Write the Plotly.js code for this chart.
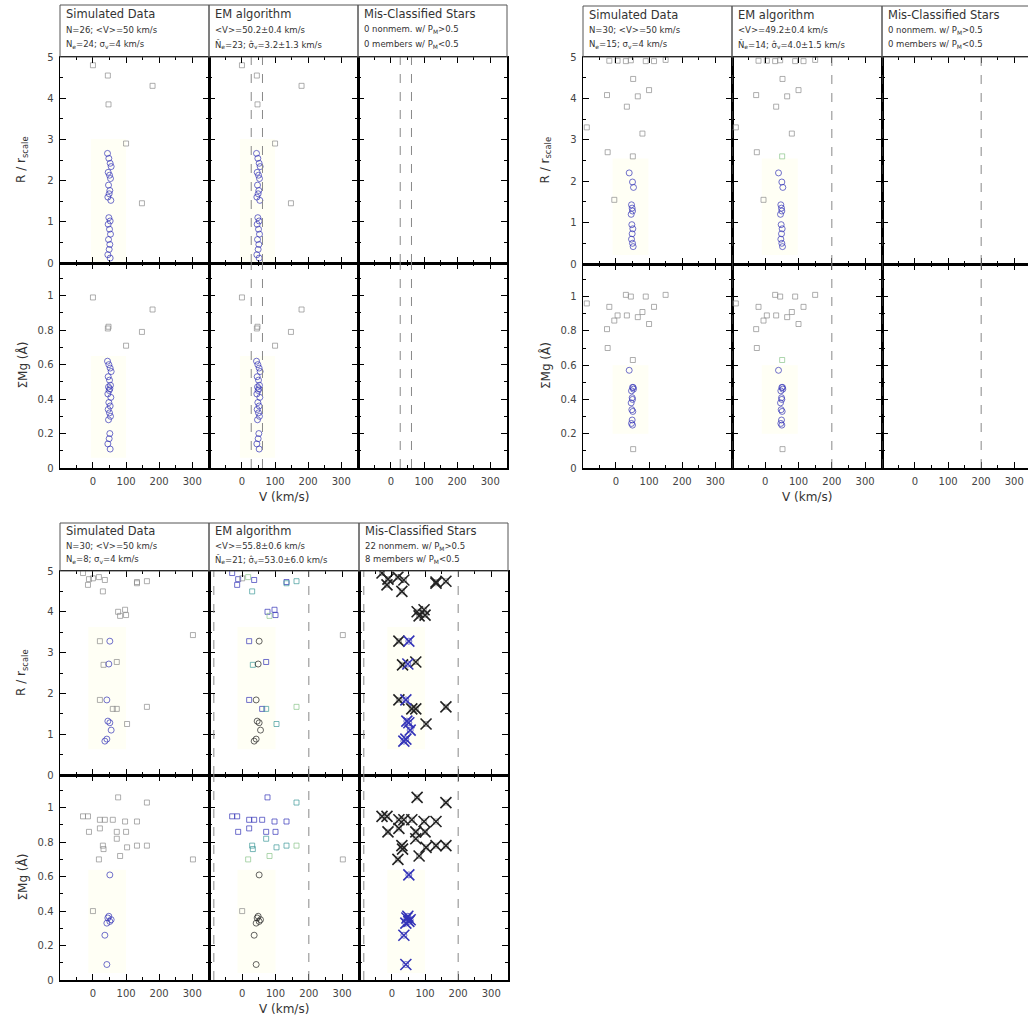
<!DOCTYPE html>
<html><head><meta charset="utf-8">
<script src="https://cdn.plot.ly/plotly-3.0.1.min.js"></script>
<style>html,body{margin:0;padding:0;background:#fff}</style>
</head><body><div id="chart" style="width:1028px;height:1028px"></div>
<script>
// ---------------- DATA ----------------
// Sample 1 (top-left block)
const s1_v   = [0,45,47,100,180,148, 44,48,52,55,46,50,53,47,51,49,45,54,48,52,46,50,53,47,51,49,45,52];
const s1_r   = [4.8,4.55,3.85,2.9,4.3,1.45, 2.66,2.54,2.42,2.34,2.2,2.13,2.05,1.89,1.76,1.68,1.6,1.52,1.1,1.02,0.94,0.82,0.7,0.57,0.45,0.33,0.2,0.12];
const s1_ew  = [0.99,0.81,0.82,0.71,0.92,0.79, 0.62,0.6,0.58,0.56,0.53,0.51,0.48,0.47,0.46,0.45,0.43,0.41,0.38,0.36,0.34,0.32,0.3,0.28,0.2,0.17,0.14,0.11];
const s1_mem = [0,0,0,0,0,0, 1,1,1,1,1,1,1,1,1,1,1,1,1,1,1,1,1,1,1,1,1,1];
const s1_pm  = [0,0,0,0,0,0, 1,1,1,1,1,1,1,1,1,1,1,1,1,1,1,1,1,1,1,1,1,1];
const s1_win = [28,62];
const s1_text = [
  ["Simulated Data","N=26; &lt;V&gt;=50 km/s","N<sub>e</sub>=24; σ<sub>v</sub>=4 km/s"],
  ["EM algorithm","&lt;V&gt;=50.2±0.4 km/s","N̂<sub>e</sub>=23; σ̂<sub>v</sub>=3.2±1.3 km/s"],
  ["Mis-Classified Stars","0 nonmem. w/ P<sub>M</sub>&gt;0.5","0 members w/ P<sub>M</sub>&lt;0.5"]
];

// Sample 2 (top-right block)
const s2_v   = [-88,-27,-25,-20,-5,5,30,33,45,51,52,66,80,90,100,115,150, 40,50,53,47,49,50,46,48,51,49,47,50,52];
const s2_r   = [3.3,4.08,2.7,4.91,1.55,4.91,4.9,3.8,4.92,2.6,4.47,4.05,3.15,4.9,4.2,4.9,4.93, 2.2,1.98,1.85,1.43,1.35,1.28,1.2,0.95,0.85,0.73,0.6,0.5,0.42];
const s2_ew  = [0.96,0.81,0.7,0.94,0.86,0.89,1.01,0.89,1.0,0.63,0.11,0.88,0.91,1.0,0.84,0.94,1.01, 0.57,0.47,0.46,0.45,0.41,0.4,0.38,0.34,0.33,0.28,0.26,0.25,0.47];
const s2_mem = [0,0,0,0,0,0,0,0,0,0,0,0,0,0,0,0,0, 1,1,1,1,1,1,1,1,1,1,1,1,1];
const s2_pm  = [0,0,0,0,0,0,0,0,0,0.45,0,0,0,0,0,0,0, 1,1,1,1,1,1,1,1,1,1,1,1,1];
const s2_win = [-100,200];
const s2_text = [
  ["Simulated Data","N=30; &lt;V&gt;=50 km/s","N<sub>e</sub>=15; σ<sub>v</sub>=4 km/s"],
  ["EM algorithm","&lt;V&gt;=49.2±0.4 km/s","N̂<sub>e</sub>=14; σ̂<sub>v</sub>=4.0±1.5 km/s"],
  ["Mis-Classified Stars","0 nonmem. w/ P<sub>M</sub>&gt;0.5","0 members w/ P<sub>M</sub>&lt;0.5"]
];

// Sample 3 (bottom block)
const s3_v   = [-30,-15,-12,0,18,21,21,30,32,60,72,72,76,82,97,100,103,133,163,163,302,36,133, 45,51,55,36,42,51,42,48];
const s3_r   = [4.95,4.66,4.8,4.82,4.85,3.28,1.84,4.5,2.7,1.62,2.77,1.62,4.0,3.9,4.05,3.92,1.25,4.73,4.75,1.67,3.43,4.78,4.7, 1.32,1.28,1.1,0.83,0.88,3.28,1.84,2.72];
const s3_ew  = [0.95,0.95,0.86,0.4,0.7,0.93,0.88,0.78,0.76,0.93,0.86,0.82,1.06,0.72,0.92,0.86,0.77,0.92,1.03,0.78,0.7,0.93,0.78, 0.36,0.34,0.35,0.26,0.09,0.61,0.33,0.37];
const s3_mem = [0,0,0,0,0,0,0,0,0,0,0,0,0,0,0,0,0,0,0,0,0,0,0, 1,1,1,1,1,1,1,1];
const s3_pm  = [0.95,0.95,0.9,0.1,0.6,0.95,0.9,0.7,0.7,0.95,0.9,0.75,0.95,0.6,0.95,0.9,0.7,0.9,0.8,0.6,0.05,0.95,0.7, 0.05,0.05,0.05,0.05,0.05,0.1,0.05,0.05];
const s3_win = [-85,200];
const s3_text = [
  ["Simulated Data","N=30; &lt;V&gt;=50 km/s","N<sub>e</sub>=8; σ<sub>v</sub>=4 km/s"],
  ["EM algorithm","&lt;V&gt;=55.8±0.6 km/s","N̂<sub>e</sub>=21; σ̂<sub>v</sub>=53.0±6.0 km/s"],
  ["Mis-Classified Stars","22 nonmem. w/ P<sub>M</sub>&gt;0.5","8 members w/ P<sub>M</sub>&lt;0.5"]
];

const xTitle = "V (km/s)";
const yTitleTop = "R / r<sub>scale</sub>";
const yTitleBot = "ΣMg (Å)";

// ---------------- LAYOUT / DRAW ----------------
const W = 1028, H = 1028;
const BLUE = '#3434b8', GRAY = '#8c8c8c', DARK = '#222222', TEAL = '#3f9a9a', LGREEN = '#8cc48c';
const FONT = 'DejaVu Sans';

const samples = [
  {v:s1_v, r:s1_r, ew:s1_ew, mem:s1_mem, pm:s1_pm, win:s1_win, text:s1_text},
  {v:s2_v, r:s2_r, ew:s2_ew, mem:s2_mem, pm:s2_pm, win:s2_win, text:s2_text},
  {v:s3_v, r:s3_r, ew:s3_ew, mem:s3_mem, pm:s3_pm, win:s3_win, text:s3_text}
];
const geo = [
  {xs:[60,209,358,507], head:[5,57], top:[57,263], bot:[263,468]},
  {xs:[583,732,882,1031], head:[6,57], top:[57,264], bot:[264,468]},
  {xs:[60,209,359,508], head:[523,571], top:[571,775], bot:[775,980]}
];

function emColor(p, m){
  if (p >= 0.85) return BLUE;
  if (p >= 0.65) return TEAL;
  if (p >= 0.4) return LGREEN;
  return m ? DARK : GRAY;
}
const simColor = m => m ? BLUE : GRAY;
const symOf = m => m ? 'circle-open' : 'square-open';
const sizeOf = m => m ? 6 : 5;

const layout = {
  width: W, height: H, margin:{l:0,r:0,t:0,b:0},
  paper_bgcolor:'#fff', plot_bgcolor:'rgba(0,0,0,0)',
  showlegend:false, shapes:[], annotations:[]
};
const traces = [];

samples.forEach((s, g) => {
  const G = geo[g];
  const rows = [{key:'r', y:G.top, range:[0,5], dtick:1, minor:0.5},
                {key:'ew', y:G.bot, range:[0,1.19], dtick:0.2, minor:0.1}];
  for (let row = 0; row < 2; row++) {
    for (let c = 0; c < 3; c++) {
      const n = g*6 + row*3 + c + 1;
      const xn = 'x' + (n===1?'':n), yn = 'y' + (n===1?'':n);
      const xa = 'xaxis' + (n===1?'':n), ya = 'yaxis' + (n===1?'':n);
      const x0 = G.xs[c], x1full = G.xs[c+1], x1 = Math.min(x1full, W);
      const span = 450 * (x1 - x0) / (x1full - x0);
      const R = rows[row];
      const common = {showgrid:false, zeroline:false, showline:true, linecolor:'#000', linewidth:1.5,
        ticks:'inside', tickcolor:'#000', ticklen:6, tickwidth:1,
        tickfont:{family:FONT, size:10, color:'#444'}, ticklabelstandoff:3, fixedrange:true};
      layout[xa] = Object.assign({}, common, {
        domain:[x0/W, x1/W], range:[-99.5, -99.5 + span], anchor:yn,
        mirror:'allticks', tick0:0, dtick:100,
        minor:{ticks:'inside', ticklen:3, dtick:50, tick0:0, tickcolor:'#000'},
        showticklabels: row===1
      });
      layout[ya] = Object.assign({}, common, {
        domain:[1-R.y[1]/H, 1-R.y[0]/H], range:R.range, anchor:xn,
        mirror: (x1full > W) ? false : 'allticks', tick0:0, dtick:R.dtick,
        minor:{ticks:'inside', ticklen:3, dtick:R.minor, tick0:0, tickcolor:'#000'},
        showticklabels: c===0
      });

      const yv = s[R.key];
      // faint yellow member region
      const mi = s.mem.map((m,i)=>m?i:-1).filter(i=>i>=0);
      const mv = mi.map(i=>s.v[i]), my = mi.map(i=>yv[i]);
      if (mi.length && !(g===0 && c===2) && !(g===1 && c===2)) {
        layout.shapes.push({type:'rect', xref:xn, yref:yn, layer:'below',
          x0:Math.min(...mv)-50, x1:Math.max(...mv)+45,
          y0:Math.max(0, Math.min(...my)-(row?0.05:0.2)), y1:Math.max(...my)+(row?0.03:0.35),
          fillcolor:'rgba(255,255,170,0.12)', line:{width:0}});
      }
      // dashed window lines
      if (c > 0) {
        s.win.forEach(w => layout.shapes.push({type:'line', xref:xn, yref:yn+' domain',
          x0:w, x1:w, y0:0, y1:1, line:{color:'#888', width:1, dash:'dash'}}));
      }
      if (c === 0) {
        traces.push({type:'scatter', mode:'markers', xaxis:xn, yaxis:yn, x:s.v, y:yv,
          marker:{symbol:s.mem.map(symOf), size:s.mem.map(sizeOf), color:s.mem.map(simColor), line:{width:1}},
          hoverinfo:'skip'});
      } else if (c === 1) {
        traces.push({type:'scatter', mode:'markers', xaxis:xn, yaxis:yn, x:s.v, y:yv,
          marker:{symbol:s.mem.map(symOf), size:s.mem.map(sizeOf),
                  color:s.mem.map((m,i)=>emColor(s.pm[i], m)), line:{width:1}},
          hoverinfo:'skip'});
      } else {
        const idx = s.mem.map((m,i)=>((m===0 && s.pm[i]>0.5)||(m===1 && s.pm[i]<0.5))?i:-1).filter(i=>i>=0);
        if (idx.length) {
          traces.push({type:'scatter', mode:'markers', xaxis:xn, yaxis:yn,
            x:idx.map(i=>s.v[i]), y:idx.map(i=>yv[i]),
            marker:{symbol:idx.map(i=>symOf(s.mem[i])), size:idx.map(i=>sizeOf(s.mem[i])),
                    color:idx.map(i=>simColor(s.mem[i])), line:{width:1}}, hoverinfo:'skip'});
          traces.push({type:'scatter', mode:'markers', xaxis:xn, yaxis:yn,
            x:idx.map(i=>s.v[i]), y:idx.map(i=>yv[i]),
            marker:{symbol:'x-thin-open', size:11, color:idx.map(i=>s.mem[i]?BLUE:DARK), line:{width:1.6}},
            hoverinfo:'skip'});
        } else {
          traces.push({type:'scatter', mode:'markers', xaxis:xn, yaxis:yn, x:[], y:[]});
        }
      }
    }
  }
  // header boxes and texts
  for (let c = 0; c < 3; c++) {
    const x0 = G.xs[c], x1 = Math.min(G.xs[c+1], W+2);
    layout.shapes.push({type:'rect', xref:'paper', yref:'paper',
      x0:x0/W, x1:x1/W, y0:1-G.head[1]/H, y1:1-G.head[0]/H, line:{color:'#555', width:1}});
    const hh = G.head[1]-G.head[0];
    const lines = s.text[c];
    const ys = [G.head[0]+hh*0.17, G.head[0]+hh*0.48, G.head[0]+hh*0.76];
    lines.forEach((t, k) => layout.annotations.push({xref:'paper', yref:'paper',
      x:(x0+4)/W, y:1-ys[k]/H, xanchor:'left', yanchor:'middle', showarrow:false,
      text:t, font:{family:FONT, size:k===0?11.5:8.5, color:'#333'}}));
  }
  // axis titles
  layout.annotations.push({xref:'paper', yref:'paper', x:(G.xs[0]-38)/W, y:1-(G.top[0]+G.top[1])/2/H,
    xanchor:'center', yanchor:'middle',
    text:yTitleTop, textangle:-90, showarrow:false, font:{family:FONT, size:12, color:'#333'}});
  layout.annotations.push({xref:'paper', yref:'paper', x:(G.xs[0]-38)/W, y:1-(G.bot[0]+G.bot[1])/2/H,
    xanchor:'center', yanchor:'middle',
    text:yTitleBot, textangle:-90, showarrow:false, font:{family:FONT, size:12, color:'#333'}});
  layout.annotations.push({xref:'paper', yref:'paper', x:(G.xs[1]+G.xs[2])/2/W, y:1-(G.bot[1]+29)/H,
    xanchor:'center', yanchor:'middle',
    text:xTitle, showarrow:false, font:{family:FONT, size:12, color:'#333'}});
});

Plotly.newPlot('chart', traces, layout, {staticPlot:true, displayModeBar:false});
</script>
</body></html>
